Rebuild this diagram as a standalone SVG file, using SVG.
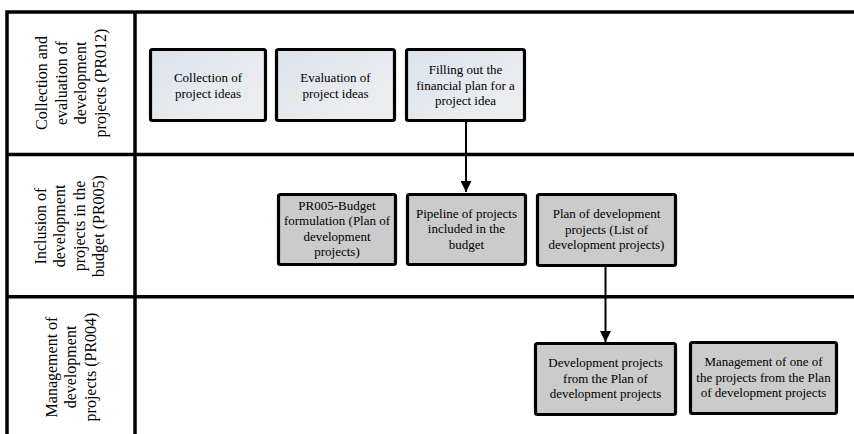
<svg xmlns="http://www.w3.org/2000/svg" width="854" height="434" viewBox="0 0 854 434">
<style>
.lane{fill:none;stroke:#000;stroke-width:3.5}
.box1{fill:url(#g1);stroke:#000;stroke-width:3.2}
.box2{fill:#cbcbcb;stroke:#000;stroke-width:3.2}
.t{font-family:'Liberation Serif','Times New Roman','DejaVu Serif',serif;font-size:13px;fill:#000;text-anchor:middle}
.lt{font-family:'Liberation Serif','Times New Roman','DejaVu Serif',serif;font-size:16px;fill:#000;text-anchor:middle}
.conn{stroke:#000;stroke-width:2;fill:none}
</style>
<defs>
<linearGradient id="g1" x1="0" y1="0" x2="1" y2="1">
<stop offset="0" stop-color="#dce3ee"/>
<stop offset="1" stop-color="#efefef"/>
</linearGradient>
<marker id="arr" viewBox="0 0 10 10" refX="10" refY="5" markerWidth="5.5" markerHeight="5.5" markerUnits="strokeWidth" orient="auto">
<path d="M0,0 L10,5 L0,10 z" fill="#000"/>
</marker>
</defs>
<rect width="854" height="434" fill="#fff"/>
<g id="pool">
<path class="lane" d="M854,12 H7 V434"/>
<path class="lane" d="M135,12 V434"/>
<path class="lane" d="M7,154.5 H854"/>
<path class="lane" d="M7,296.7 H854"/>
</g>
<g id="lane1-label">
<text class="lt" font-family="Liberation Serif, serif" transform="translate(71,83) rotate(-90)"><tspan x="0" y="-24">Collection and</tspan><tspan x="0" y="-4.5">evaluation of</tspan><tspan x="0" y="15">development</tspan><tspan x="0" y="34.5">projects (PR012)</tspan></text>
</g>
<g id="lane2-label">
<text class="lt" transform="translate(71,226) rotate(-90)"><tspan x="0" y="-25.5">Inclusion of</tspan><tspan x="0" y="-6">development</tspan><tspan x="0" y="13.5">projects in the</tspan><tspan x="0" y="33">budget (PR005)</tspan></text>
</g>
<g id="lane3-label">
<text class="lt" transform="translate(71,367) rotate(-90)"><tspan x="0" y="-14.5">Management of</tspan><tspan x="0" y="5">development</tspan><tspan x="0" y="24.5">projects (PR004)</tspan></text>
</g>
<g id="n1">
<rect class="box1" x="150.5" y="49.5" width="115" height="71" rx="2"/>
<text class="t"><tspan x="208" y="81.5">Collection of</tspan><tspan x="208" y="97.5">project ideas</tspan></text>
</g>
<g id="n2">
<rect class="box1" x="276.5" y="49.5" width="118" height="71" rx="2"/>
<text class="t"><tspan x="335.5" y="81.5">Evaluation of</tspan><tspan x="335.5" y="97.5">project ideas</tspan></text>
</g>
<g id="n3">
<rect class="box1" x="406.5" y="49.5" width="118" height="71" rx="2"/>
<text class="t"><tspan x="465.5" y="74">Filling out the</tspan><tspan x="465.5" y="89.5">financial plan for a</tspan><tspan x="465.5" y="105">project idea</tspan></text>
</g>
<g id="n4">
<rect class="box2" x="278.5" y="194.5" width="117" height="70" rx="2"/>
<text class="t"><tspan x="337" y="210">PR005-Budget</tspan><tspan x="337" y="225.3">formulation (Plan of</tspan><tspan x="337" y="240.6">development</tspan><tspan x="337" y="255.9">projects)</tspan></text>
</g>
<g id="n5">
<rect class="box2" x="407.5" y="194.5" width="118" height="70" rx="2"/>
<text class="t"><tspan x="466.5" y="217.5">Pipeline of projects</tspan><tspan x="466.5" y="233">included in the</tspan><tspan x="466.5" y="248.5">budget</tspan></text>
</g>
<g id="n6">
<rect class="box2" x="537.5" y="194.5" width="138" height="71" rx="2"/>
<text class="t"><tspan x="606.5" y="218">Plan of development</tspan><tspan x="606.5" y="233.5">projects (List of</tspan><tspan x="606.5" y="249">development projects)</tspan></text>
</g>
<g id="n7">
<rect class="box2" x="535.5" y="343.5" width="140" height="71" rx="2"/>
<text class="t"><tspan x="605.5" y="367">Development projects</tspan><tspan x="605.5" y="382.5">from the Plan of</tspan><tspan x="605.5" y="398">development projects</tspan></text>
</g>
<g id="n8">
<rect class="box2" x="690.5" y="342.5" width="146" height="71" rx="2"/>
<text class="t"><tspan x="763.5" y="366">Management of one of</tspan><tspan x="763.5" y="381.5">the projects from the Plan</tspan><tspan x="763.5" y="397">of development projects</tspan></text>
</g>
<g id="connectors">
<line class="conn" x1="466" y1="121" x2="466" y2="192" marker-end="url(#arr)"/>
<line class="conn" x1="605.5" y1="266" x2="605.5" y2="342" marker-end="url(#arr)"/>
</g>
</svg>
